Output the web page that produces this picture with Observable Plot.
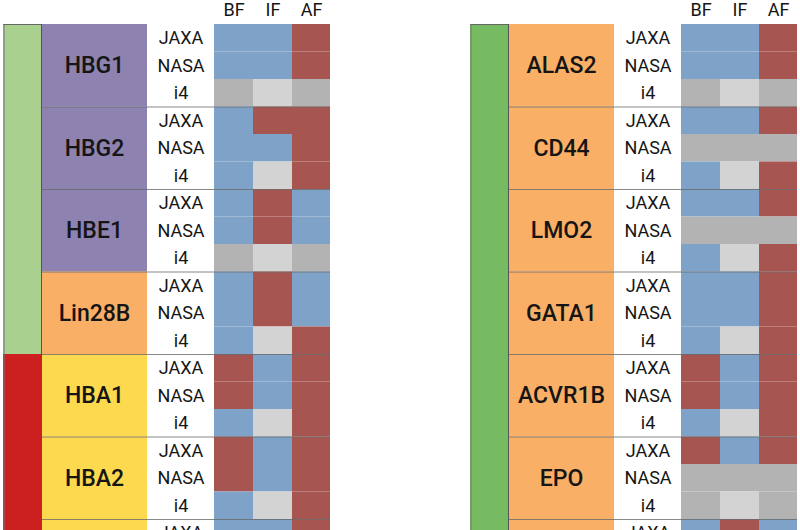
<!DOCTYPE html>
<html><head><meta charset="utf-8">
<script src="https://cdn.jsdelivr.net/npm/d3@7"></script>
<script src="https://cdn.jsdelivr.net/npm/@observablehq/plot@0.6"></script>
<style>body{margin:0;background:#fff;} #chart svg{display:block;}</style>
</head><body><div id="chart"></div>
<script>
// ---- data ----
const timepoints = ["BF", "IF", "AF"];
const missions = ["JAXA", "NASA", "i4"];
const panels = ["left", "right"];

const leftGenes = ["HBG1", "HBG2", "HBE1", "Lin28B", "HBA1", "HBA2", ""];
const leftFamilies = ["famA", "famA", "famA", "famB", "famC", "famC", "famC"];
const leftGroups = ["grpA", "grpA", "grpA", "grpA", "grpB", "grpB", "grpB"];
// codes per mission: BF IF AF ; B = blue, R = red, G = grey, L = light grey
const leftValues = [
  ["BBR", "BBR", "GLG"],
  ["BRR", "BBR", "BLR"],
  ["BRB", "BRB", "GLG"],
  ["BRB", "BRB", "BLR"],
  ["RBR", "RBR", "BLR"],
  ["RBR", "RBR", "BLR"],
  ["BBR"]
];

const rightGenes = ["ALAS2", "CD44", "LMO2", "GATA1", "ACVR1B", "EPO", ""];
const rightFamilies = ["famB", "famB", "famB", "famB", "famB", "famB", "famB"];
const rightGroups = ["grpC", "grpC", "grpC", "grpC", "grpC", "grpC", "grpC"];
const rightValues = [
  ["BBR", "BBR", "GLG"],
  ["BBR", "GGG", "BLR"],
  ["BBR", "GGG", "BLR"],
  ["BBR", "BBR", "BLR"],
  ["RBR", "RBR", "BLR"],
  ["RBR", "GGG", "GLG"],
  ["BRB"]
];

// ---- layout / style ----
const col = {group: [0, 38], gene: [38, 144], label: [144, 211], BF: [211, 250], IF: [250, 289], AF: [289, 327]};
const colorDomain = ["B", "R", "G", "L", "famA", "famB", "famC", "grpA", "grpB", "grpC"];
const colorRange = ["#7fa3c8", "#a75551", "#b3b3b3", "#d3d3d3", "#8e82b0", "#f9af66", "#fdd94f", "#a9d08e", "#cc1f1f", "#76bb62"];
const FONT = "Roboto, 'DejaVu Sans', sans-serif";

// ---- build tables ----
const src = {
  left: {genes: leftGenes, fam: leftFamilies, grp: leftGroups, vals: leftValues},
  right: {genes: rightGenes, fam: rightFamilies, grp: rightGroups, vals: rightValues}
};
const geneRows = [], cells = [], labels = [], groupSpans = [];
for (const p of panels) {
  const s = src[p];
  s.genes.forEach((g, i) => {
    geneRows.push({panel: p, gene: g, fam: s.fam[i], grp: s.grp[i], y1: i * 3, y2: i * 3 + 3});
    s.vals[i].forEach((codes, m) => {
      const row = i * 3 + m;
      labels.push({panel: p, text: missions[m], row});
      timepoints.forEach((t, k) => cells.push({panel: p, tp: t, code: codes[k], row}));
    });
  });
  let start = 0;
  for (let i = 1; i <= s.grp.length; i++) {
    if (i === s.grp.length || s.grp[i] !== s.grp[start]) {
      groupSpans.push({panel: p, grp: s.grp[start], y1: start * 3, y2: i * 3});
      start = i;
    }
  }
}
const headers = panels.flatMap(p => timepoints.map(t => ({panel: p, tp: t})));
const boundaries = geneRows.filter(d => d.y1 > 0);

const chart = Plot.plot({
  width: 800, height: 530,
  marginLeft: 3, marginRight: 3, marginTop: 0, marginBottom: 0,
  fx: {domain: panels, paddingInner: 0.3, paddingOuter: 0, axis: null},
  x: {domain: [0, 327], axis: null},
  y: {domain: [-0.873, 18.4], reverse: true, axis: null},
  color: {domain: colorDomain, range: colorRange},
  style: {background: "#fff"},
  marks: [
    Plot.rect(groupSpans, {fx: "panel", x1: col.group[0], x2: col.group[1], y1: "y1", y2: "y2", fill: "grp"}),
    Plot.rect(geneRows, {fx: "panel", x1: col.gene[0], x2: col.gene[1], y1: "y1", y2: "y2", fill: "fam"}),
    Plot.rect(cells, {fx: "panel", x1: d => col[d.tp][0], x2: d => col[d.tp][1], y1: "row", y2: d => d.row + 1, fill: "code"}),
    Plot.ruleY(boundaries, {fx: "panel", y: "y1", x1: col.gene[0], x2: col.AF[1], stroke: "#6a6a6a", strokeWidth: 1, strokeOpacity: 0.8}),
    Plot.ruleY(panels, {fx: d => d, y: 0, x1: col.group[0], x2: col.group[1], stroke: "#666", strokeWidth: 1.2}),
    Plot.ruleX(panels, {fx: d => d, x: col.group[0] + 0.5, y1: 0, y2: 21, stroke: "#777", strokeWidth: 1}),
    Plot.ruleX(panels, {fx: d => d, x: col.group[1], y1: 0, y2: 21, stroke: "#555", strokeWidth: 1}),
    Plot.text(geneRows, {fx: "panel", x: (col.gene[0] + col.gene[1]) / 2, y: d => d.y1 + 1.5, text: "gene",
      fontSize: 23, fontWeight: 500, fontFamily: FONT, fill: "#151515", textAnchor: "middle", lineAnchor: "middle"}),
    Plot.text(labels, {fx: "panel", x: (col.label[0] + col.label[1]) / 2, y: d => d.row + 0.5, text: "text",
      fontSize: 18, fontWeight: 400, fontFamily: FONT, fill: "#151515", textAnchor: "middle", lineAnchor: "middle"}),
    Plot.text(headers, {fx: "panel", x: d => (col[d.tp][0] + col[d.tp][1]) / 2, y: -0.52, text: "tp",
      fontSize: 18, fontWeight: 400, fontFamily: FONT, fill: "#151515", textAnchor: "middle", lineAnchor: "middle"})
  ]
});
document.getElementById("chart").append(chart);
</script>
</body></html>
